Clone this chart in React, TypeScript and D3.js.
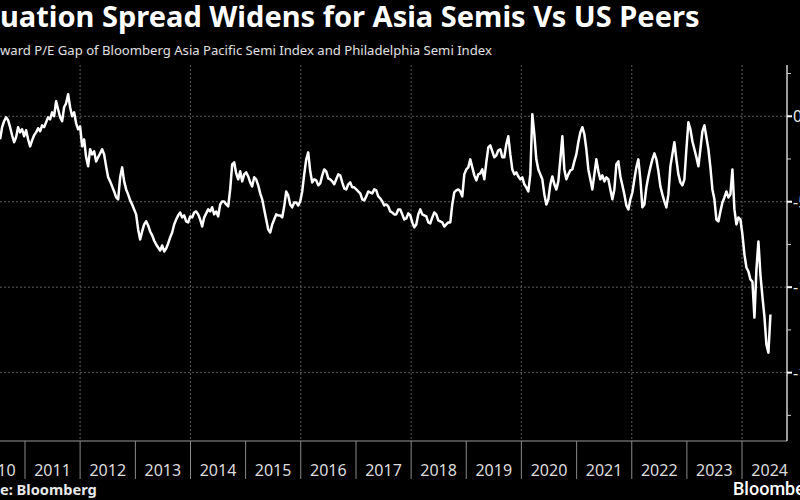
import React, { useRef, useEffect } from "react";
import * as d3 from "d3";

const title = "Valuation Spread Widens for Asia Semis Vs US Peers";
const subtitle =
  "Forward P/E Gap of Bloomberg Asia Pacific Semi Index and Philadelphia Semi Index";
const source = "Source: Bloomberg";

const yearLabels = [2010, 2011, 2012, 2013, 2014, 2015, 2016, 2017, 2018, 2019, 2020, 2021, 2022, 2023, 2024];
const gridYears = [2012, 2014, 2016, 2018, 2020, 2022, 2024];
const yTicks = [0, -5, -10, -15];
const yMinorTicks = [2.5, -2.5, -7.5, -12.5, -17.5];

// readings roughly every two weeks, starting mid July 2010
const firstDate = new Date(2010, 6, 20);
const stepDays = 13.25;
const gapValues = [
  -1.35, -0.64, -0.29, -0.06, -0.23, -0.64, -1.11, -1.52, -1.23, -0.64,
  -0.94, -0.76, -1.17, -0.82, -1.35, -1.76, -1.41, -1.11, -0.94, -0.70,
  -0.88, -0.53, -0.64, -0.35, -0.06, -0.18, 0.23, 0.0, 0.88, 0.41,
  -0.06, -0.29, 0.53, 0.76, 1.29, 0.53, 0.0, 0.23, -0.41, -0.76,
  -0.59, -1.76, -1.35, -2.40, -2.93, -1.93, -2.23, -2.05, -2.64, -2.40,
  -2.17, -1.93, -2.23, -2.93, -3.57, -3.81, -4.10, -4.40, -4.75, -4.86,
  -3.57, -2.99, -3.81, -4.28, -4.57, -4.92, -5.16, -5.45, -5.74, -6.62,
  -7.21, -6.74, -6.33, -6.15, -6.39, -6.74, -6.97, -7.27, -7.50, -7.68,
  -7.85, -7.56, -7.91, -7.74, -7.44, -7.09, -6.80, -6.33, -6.04, -5.80,
  -5.63, -5.92, -5.80, -6.15, -6.21, -5.86, -5.92, -5.63, -5.57, -5.74,
  -6.04, -6.45, -5.92, -5.68, -5.45, -5.57, -5.33, -5.74, -5.57, -5.86,
  -5.16, -4.98, -4.98, -5.16, -5.27, -4.28, -2.81, -2.70, -3.34, -3.69,
  -3.22, -3.81, -3.40, -3.28, -3.52, -3.87, -4.10, -3.57, -3.69, -4.04,
  -4.51, -4.86, -5.45, -6.04, -6.62, -6.80, -6.33, -6.04, -5.74, -5.80,
  -5.80, -5.92, -5.27, -4.40, -4.63, -5.16, -5.33, -5.04, -5.04, -5.22,
  -4.98, -4.40, -3.40, -2.52, -2.11, -3.22, -3.87, -3.69, -3.75, -4.04,
  -3.93, -3.46, -3.11, -3.22, -3.63, -3.69, -3.81, -3.98, -3.69, -3.40,
  -3.46, -3.87, -4.22, -4.28, -3.98, -3.87, -4.16, -4.16, -4.28, -4.40,
  -4.51, -4.86, -4.92, -4.69, -4.40, -4.46, -4.51, -4.28, -4.34, -4.69,
  -4.80, -4.98, -5.22, -5.16, -5.27, -5.57, -5.63, -5.74, -5.74, -5.45,
  -5.45, -5.74, -6.04, -5.98, -5.68, -5.80, -6.21, -6.50, -6.33, -5.74,
  -5.45, -5.74, -5.80, -5.86, -6.21, -6.27, -5.92, -5.63, -5.74, -6.09,
  -6.15, -6.21, -6.45, -6.33, -6.21, -6.21, -5.16, -4.45, -4.34, -4.28,
  -4.40, -4.69, -3.40, -3.11, -2.99, -2.52, -2.99, -3.46, -3.75, -3.40,
  -3.34, -3.11, -3.69, -2.70, -1.82, -1.70, -2.05, -2.40, -2.29, -1.99,
  -1.93, -2.40, -2.40, -1.64, -1.17, -2.23, -3.11, -3.40, -3.28, -3.52,
  -3.69, -3.57, -3.98, -4.16, -4.40, -3.40, 0.12, -1.05, -2.52, -3.11,
  -3.40, -3.69, -4.57, -5.16, -4.86, -3.98, -3.52, -3.98, -4.28, -3.81,
  -2.52, -1.17, -3.11, -3.69, -3.40, -3.16, -3.11, -2.64, -2.23, -1.52,
  -0.94, -0.64, -1.05, -1.93, -3.11, -3.69, -4.28, -3.40, -2.52, -3.22,
  -3.69, -3.46, -3.81, -3.57, -3.69, -4.28, -4.86, -4.28, -2.81, -2.64,
  -3.52, -4.04, -4.57, -5.22, -5.45, -4.86, -4.46, -3.69, -2.99, -2.52,
  -3.69, -5.33, -5.16, -4.16, -3.52, -2.99, -2.52, -2.17, -2.52, -3.22,
  -4.10, -4.57, -4.98, -5.33, -4.57, -2.93, -2.23, -1.52, -2.52, -3.40,
  -3.87, -4.04, -3.69, -1.93, -0.35, -0.76, -1.46, -1.93, -2.40, -2.93,
  -1.93, -0.88, -0.53, -1.23, -1.93, -2.99, -4.28, -4.86, -6.04, -6.15,
  -5.57, -5.04, -4.75, -4.40, -4.75, -4.57, -3.11, -5.45, -6.33, -5.92,
  -6.04, -6.91, -8.08, -8.85, -9.08, -9.55, -9.67, -11.78, -8.97, -7.33,
  -9.26, -10.55, -11.72, -13.36, -13.83, -11.60,
];

const WIDTH = 800;
const HEIGHT = 500;

// fit a text so that its left part is cut by the page edge and the rest ends at `right`
function fitCut(sel, prefixLen, right) {
  const node = sel.node();
  const size = +sel.attr("font-size");
  const pre = node.getSubStringLength(0, prefixLen);
  const total = node.getComputedTextLength();
  const k = right / (total - pre);
  sel.attr("font-size", size * k).attr("x", -pre * k);
}

function App() {
  const svgRef = useRef(null);

  useEffect(() => {
    const svg = d3.select(svgRef.current);
    svg.selectAll("*").remove();

    const top = 65;
    const bottom = 441;
    const right = 787;

    const x = d3
      .scaleTime()
      .domain([new Date(2011, 0, 1), new Date(2024, 0, 1)])
      .range([25, 742]);
    const y = d3.scaleLinear().domain([-19, 3]).range([bottom, top]);

    const data = gapValues.map((v, i) => ({
      date: new Date(firstDate.getTime() + i * stepDays * 864e5),
      value: v,
    }));

    svg.append("rect").attr("width", WIDTH).attr("height", HEIGHT).attr("fill", "#000");

    // horizontal dashed grid
    svg
      .append("g")
      .selectAll("line")
      .data(yTicks)
      .join("line")
      .attr("x1", 0)
      .attr("x2", right)
      .attr("y1", (d) => y(d))
      .attr("y2", (d) => y(d))
      .attr("stroke", "#5a5a5a")
      .attr("stroke-dasharray", "2,2");

    // vertical dashed grid every other year
    svg
      .append("g")
      .selectAll("line")
      .data(gridYears)
      .join("line")
      .attr("x1", (d) => x(new Date(d, 0, 1)))
      .attr("x2", (d) => x(new Date(d, 0, 1)))
      .attr("y1", top)
      .attr("y2", bottom)
      .attr("stroke", "#5a5a5a")
      .attr("stroke-dasharray", "2,2");

    // x axis baseline + year separators
    svg
      .append("line")
      .attr("x1", 0)
      .attr("x2", right)
      .attr("y1", bottom)
      .attr("y2", bottom)
      .attr("stroke", "#9a9a9a");

    svg
      .append("g")
      .selectAll("line")
      .data(yearLabels.slice(1))
      .join("line")
      .attr("x1", (d) => x(new Date(d, 0, 1)))
      .attr("x2", (d) => x(new Date(d, 0, 1)))
      .attr("y1", bottom)
      .attr("y2", 479)
      .attr("stroke", "#8a8a8a");

    svg
      .append("g")
      .selectAll("text")
      .data(yearLabels)
      .join("text")
      .attr("x", (d) => x(new Date(d, 6, 2)))
      .attr("y", 476)
      .attr("text-anchor", "middle")
      .attr("font-family", "'Noto Sans', sans-serif")
      .attr("font-size", 16)
      .attr("fill", "#dcdcdc")
      .text((d) => d);

    // right axis
    svg
      .append("line")
      .attr("x1", right)
      .attr("x2", right)
      .attr("y1", top)
      .attr("y2", bottom)
      .attr("stroke", "#d0d0d0")
      .attr("stroke-width", 1.5);

    svg
      .append("g")
      .selectAll("line")
      .data(yMinorTicks)
      .join("line")
      .attr("x1", right)
      .attr("x2", right + 4)
      .attr("y1", (d) => y(d))
      .attr("y2", (d) => y(d))
      .attr("stroke", "#d0d0d0");

    svg
      .append("g")
      .selectAll("line")
      .data(yTicks)
      .join("line")
      .attr("x1", right)
      .attr("x2", right + 5)
      .attr("y1", (d) => y(d))
      .attr("y2", (d) => y(d))
      .attr("stroke", "#fff")
      .attr("stroke-width", 2);

    svg
      .append("g")
      .selectAll("text")
      .data(yTicks)
      .join("text")
      .attr("x", right + 6)
      .attr("y", (d) => y(d) + 6)
      .attr("font-family", "'Noto Sans', sans-serif")
      .attr("font-size", 16)
      .attr("fill", "#e8e8e8")
      .text((d) => d);

    // the series
    const line = d3
      .line()
      .x((d) => x(d.date))
      .y((d) => y(d.value))
      .curve(d3.curveLinear);

    svg
      .append("path")
      .datum(data)
      .attr("d", line)
      .attr("fill", "none")
      .attr("stroke", "#fff")
      .attr("stroke-width", 2.5)
      .attr("stroke-linejoin", "round");

    // texts
    const t = svg
      .append("text")
      .attr("y", 27)
      .attr("font-family", "'Noto Sans', sans-serif")
      .attr("font-weight", "bold")
      .attr("font-size", 24)
      .attr("fill", "#fff")
      .text(title);
    fitCut(t, 3, 700);

    const st = svg
      .append("text")
      .attr("y", 55)
      .attr("font-family", "'Noto Sans', sans-serif")
      .attr("font-size", 14)
      .attr("fill", "#e0e0e0")
      .text(subtitle);
    fitCut(st, 3, 492);

    const src = svg
      .append("text")
      .attr("y", 495)
      .attr("font-family", "'Noto Sans', sans-serif")
      .attr("font-weight", "bold")
      .attr("font-size", 13)
      .attr("fill", "#e8e8e8")
      .text(source);
    fitCut(src, 5, 97);

    svg
      .append("text")
      .attr("x", 733)
      .attr("y", 495)
      .attr("font-family", "Roboto, sans-serif")
      .attr("font-weight", 500)
      .attr("font-size", 18)
      .attr("fill", "#fff")
      .text("Bloomberg");
  }, []);

  return (
    <svg
      ref={svgRef}
      width={WIDTH}
      height={HEIGHT}
      style={{ position: "absolute", left: 0, top: 0, display: "block" }}
    ></svg>
  );
}

export default App;
